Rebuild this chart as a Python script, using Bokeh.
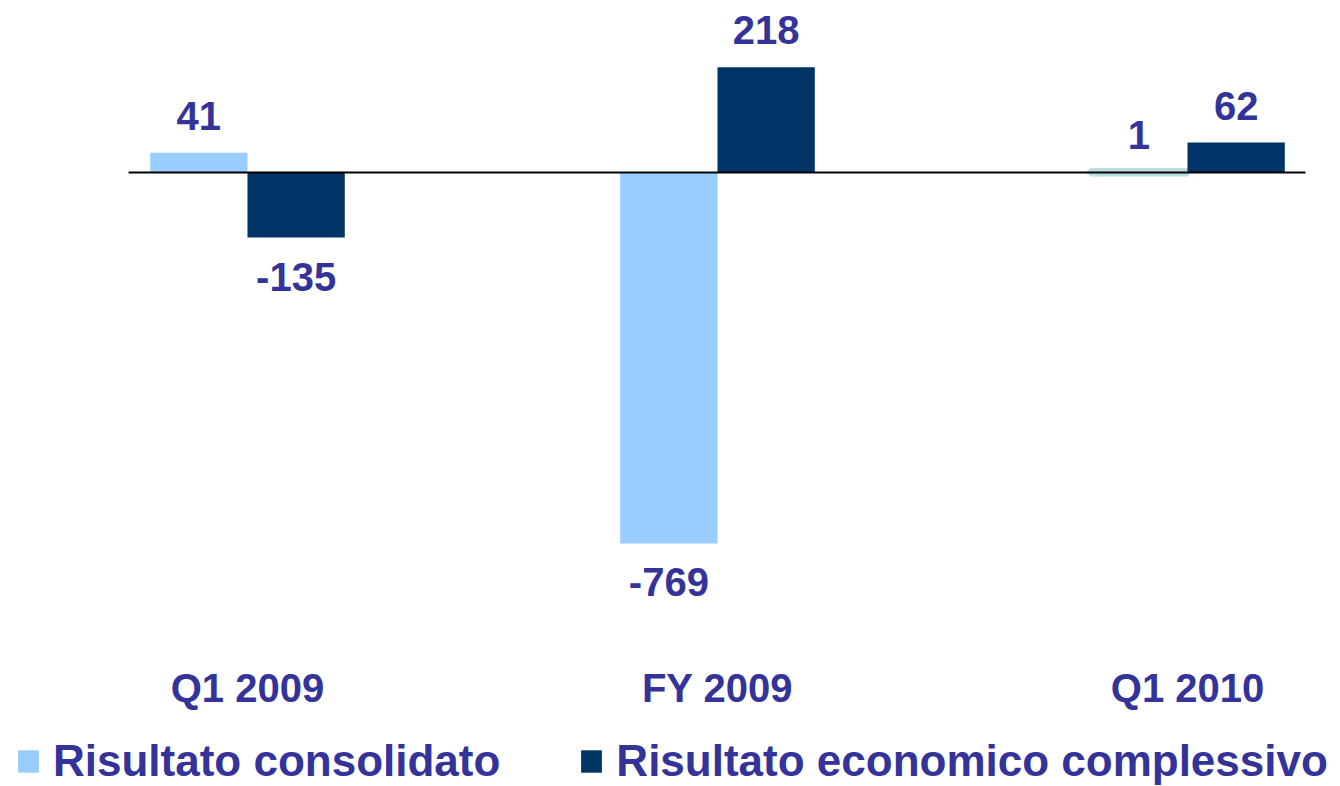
from bokeh.plotting import figure
from bokeh.models import ColumnDataSource, FixedTicker, Range1d, Legend, LegendItem
from bokeh.transform import dodge
from bokeh.embed import file_html
from bokeh.resources import INLINE
from bokeh.core.properties import value

# ---- data ----
categories = ["Q1 2009", "FY 2009", "Q1 2010"]
consolidato = [41, -769, 1]
complessivo = [-135, 218, 62]
series_names = ["Risultato consolidato", "Risultato economico complessivo"]

LIGHT = "#99ccff"
DARK = "#003366"
TEXT = "#333399"
FONT = "Liberation Sans"

xpos = list(range(len(categories)))

p = figure(width=1340, height=786, output_backend="svg", toolbar_location=None,
           x_range=Range1d(-0.5255, 2.3255), y_range=Range1d(-1272.8, 356.5),
           min_border=0)
p.outline_line_color = None
p.grid.visible = False
p.yaxis.visible = False
p.background_fill_color = "white"
p.border_fill_color = "white"

bw = 0.207
light_fill = [LIGHT if abs(v) >= 5 else "#b9dfe2" for v in consolidato]
light_lw = [0 if abs(v) >= 5 else 8 for v in consolidato]
src1 = ColumnDataSource(dict(x=xpos, v=consolidato, fc=light_fill, lw=light_lw))
src2 = ColumnDataSource(dict(x=xpos, v=complessivo))

r1 = p.vbar(x=dodge("x", -bw / 2, range=p.x_range), top="v", bottom=0, width=bw,
            source=src1, fill_color="fc", line_color="fc", line_width="lw")
r2 = p.vbar(x=dodge("x", bw / 2, range=p.x_range), top="v", bottom=0, width=bw,
            source=src2, fill_color=DARK, line_color=None)

# zero baseline, spanning the category area
p.segment(x0=[xpos[0] - 0.253], x1=[xpos[-1] + 0.251], y0=[0], y1=[0],
          line_color="black", line_width=2)

# data labels
lx, lv, lt = [], [], []
for off, vals in ((-bw / 2, consolidato), (bw / 2, complessivo)):
    for i, v in enumerate(vals):
        lx.append(xpos[i] + off)
        lv.append(v)
        lt.append(str(v))
pos = ColumnDataSource(dict(x=[a for a, b in zip(lx, lv) if b >= 0],
                            y=[b for b in lv if b >= 0],
                            t=[t for t, b in zip(lt, lv) if b >= 0]))
neg = ColumnDataSource(dict(x=[a for a, b in zip(lx, lv) if b < 0],
                            y=[b for b in lv if b < 0],
                            t=[t for t, b in zip(lt, lv) if b < 0]))
common = dict(text="t", text_font=value(FONT), text_font_style="bold",
              text_font_size="40px", text_color=TEXT, text_align="center",
              text_baseline="alphabetic")
p.text(x="x", y="y", source=pos, y_offset=-37, **common)
p.text(x="x", y="y", source=neg, y_offset=39, **common)

# category axis (drawn inside the plot area, below the bars)
ax = p.xaxis[0]
ax.fixed_location = -945.3
ax.ticker = FixedTicker(ticks=xpos)
ax.major_label_overrides = {i: c for i, c in zip(xpos, categories)}
ax.axis_line_color = None
ax.major_tick_line_color = None
ax.minor_tick_line_color = None
ax.major_label_text_font = FONT
ax.major_label_text_font_style = "bold"
ax.major_label_text_font_size = "40px"
ax.major_label_text_color = TEXT
ax.major_label_standoff = 31

lg = Legend(items=[LegendItem(label=series_names[0], renderers=[r1]),
                   LegendItem(label=series_names[1], renderers=[r2])])
lg.orientation = "horizontal"
lg.location = (15, 0)
lg.label_text_font = FONT
lg.label_text_font_style = "bold"
lg.label_text_font_size = "44px"
lg.label_text_color = TEXT
lg.glyph_width = 26
lg.glyph_height = 28
lg.label_standoff = 12
lg.spacing = 78
lg.padding = 0
lg.margin = 0
lg.border_line_color = None
lg.background_fill_alpha = 0
p.add_layout(lg, "center")

open("out.html", "w").write(file_html(p, INLINE))
